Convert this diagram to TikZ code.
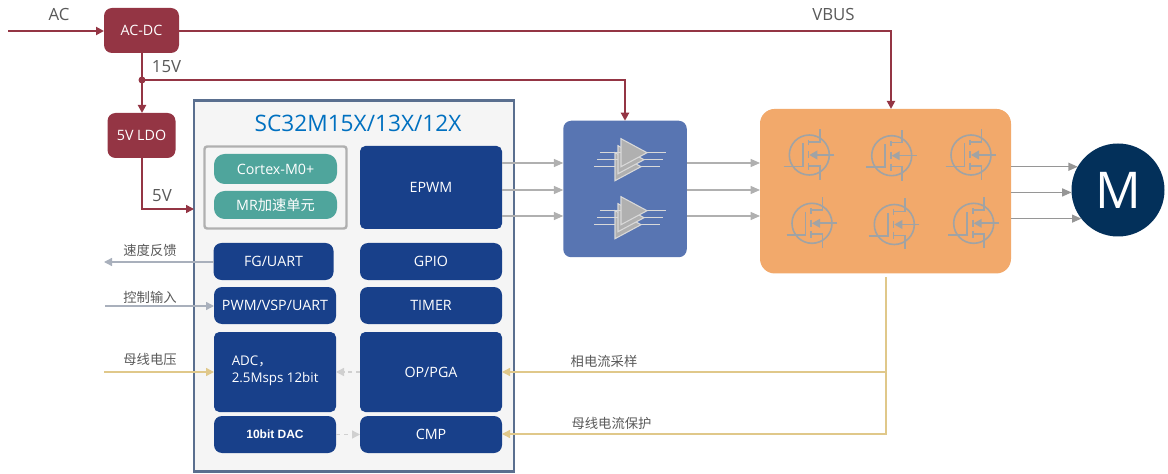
\documentclass[tikz,border=0pt]{standalone}
\usepackage{fontspec}
\setmainfont{Open Sans}
\newfontfamily\cjk{Noto Sans CJK SC}
\newfontfamily\dacfont{Liberation Sans}
\usetikzlibrary{arrows.meta,calc}
\definecolor{PowerRed}{HTML}{943544}
\definecolor{ChipBlue}{HTML}{18408A}
\definecolor{ChipEdge}{HTML}{5A6F8F}
\definecolor{CoreGreen}{HTML}{4FA59C}
\definecolor{DriverBlue}{HTML}{5875B2}
\definecolor{BridgeOrange}{HTML}{F2A96B}
\definecolor{MotorNavy}{HTML}{03305A}
\definecolor{SenseYellow}{HTML}{E0C88A}
\definecolor{SignalGray}{HTML}{A9B0BC}
\definecolor{GateGray}{HTML}{B0B0B0}
\definecolor{FetGray}{HTML}{A0A3A5}
\definecolor{LabelGray}{HTML}{595959}
\definecolor{TitleBlue}{HTML}{0070C0}
\tikzset{
    sized/.style 2 args={minimum width=#1*0.75pt,minimum height=#2*0.75pt},
    block/.style={outer sep=0pt,inner sep=0pt,text=white,rounded corners=6pt,align=center,font=\fontsize{10.7}{12}\selectfont},
    redblock/.style={block,fill=PowerRed},
    chipblock/.style={block,fill=ChipBlue},
    coreblock/.style={block,fill=CoreGreen,rounded corners=8pt},
    tag/.style={text=LabelGray,inner sep=0pt,font=\fontsize{12.6}{14}\selectfont},
    cjktag/.style={text=LabelGray,inner sep=0pt,font=\cjk\fontsize{10}{12}\selectfont},
    redline/.style={draw=PowerRed,line width=1.5pt,-{Triangle[length=6pt,width=6pt]}},
    grayline/.style={draw=GateGray,line width=0.9pt,-{Triangle[length=7pt,width=6pt]}},
    motorline/.style={draw=GateGray!85!black,line width=0.9pt,-{Triangle[length=7pt,width=6pt]}},
    signalline/.style={draw=SignalGray,line width=1pt,-{Triangle[length=6pt,width=6pt]}},
    senseline/.style={draw=SenseYellow,line width=1pt,-{Triangle[length=6pt,width=6pt]}},
    dashline/.style={draw=GateGray!60,line width=1pt,dashed,-{Triangle[length=6pt,width=6pt]}},
    fet/.pic={
        \draw[FetGray,line width=1.2pt] (0,0) circle (20);
        \draw[FetGray,line width=1.2pt] (-25.5,11.5) -- (-6.5,11.5) -- (-6.5,-11.5);
        \draw[FetGray,line width=1.2pt] (-1,-15) -- (-1,-9.5) (-1,-3.5) -- (-1,3.5) (-1,8) -- (-1,15);
        \draw[FetGray,line width=1.2pt] (-1,-13) -- (10.5,-13) -- (10.5,-26);
        \draw[FetGray,line width=1.2pt] (-1,11) -- (10.5,11) -- (10.5,25);
        \draw[FetGray,line width=1.2pt,-{Triangle[length=6pt,width=6.5pt]}] (25,0) -- (0,0);
    },
    amp/.pic={
        \foreach \k in {2,1,0}{
            \draw[draw=white!85!black,line width=0.8pt] ($(-26,0)+\k*(-3,7)$) -- ++(-21,0);
            \draw[draw=white!85!black,line width=0.8pt] ($(0,0)+\k*(-3,7)$) -- ++(19,0);
            \draw[draw=white!85!black,fill=GateGray,line width=0.8pt]
                ($(-26,-14)+\k*(-3,7)$) -- ++(0,28) -- ($(0,0)+\k*(-3,7)$) -- cycle;
        }
    },
}
\begin{document}
\begin{tikzpicture}[x=0.75pt,y=-0.75pt]
    \useasboundingbox (0,0) rectangle (1168,474);

    % power path
    \node[redblock,sized={75}{45}] (acdc) at (141.5,30.5) {AC-DC};
    \node[redblock,sized={68}{45}] (ldo) at (141.5,135.5) {5V LDO};

    % controller
    \node[fill=white!96!black,draw=ChipEdge,line width=2.2pt,outer sep=0pt,sized={320}{371}] (chip) at (354,286) {};
    \node[text=TitleBlue,font=\fontsize{17}{20}\selectfont,inner sep=0pt] (title) at (358,123) {SC32M15X/13X/12X};
    \node[draw=GateGray,line width=1.8pt,rounded corners=2pt,sized={142}{82},outer sep=0pt] (core) at (275.5,187.5) {};
    \node[coreblock,sized={123}{30}] (cortex) at (275.5,169) {Cortex-M0+};
    \node[coreblock,sized={123}{28}] (mr) at (275.5,205) {MR{\cjk 加速单元}};
    \node[chipblock,sized={142}{83},rounded corners=4pt] (epwm) at (431,187.5) {EPWM};
    \node[chipblock,sized={120}{37}] (fg) at (273.5,261.5) {FG/UART};
    \node[chipblock,sized={122}{37}] (pwm) at (275,305.5) {PWM/VSP/UART};
    \node[chipblock,sized={122}{80},rounded corners=4pt] (adc) at (275,372) {};
    \node[text=white,align=left,inner sep=0pt,anchor=west,font=\fontsize{10}{12.5}\selectfont] (adctext) at (231.5,371) {ADC{\cjk ，}\\2.5Msps 12bit};
    \node[chipblock,sized={122}{37},font=\dacfont\bfseries\fontsize{9}{10}\selectfont] (dac) at (275,434.5) {10bit DAC};
    \node[chipblock,sized={142}{37}] (gpio) at (431,261.5) {GPIO};
    \node[chipblock,sized={142}{37}] (timer) at (431,305.5) {TIMER};
    \node[chipblock,sized={142}{80},rounded corners=4pt] (op) at (431,372) {OP/PGA};
    \node[chipblock,sized={142}{37}] (cmp) at (431,434.5) {CMP};

    % driver, bridge, motor
    \node[fill=DriverBlue,rounded corners=6pt,outer sep=0pt,sized={123.5}{136.5}] (driver) at (625,189) {};
    \node[fill=BridgeOrange,rounded corners=11pt,outer sep=0pt,sized={251}{164.5}] (bridge) at (885.5,191.2) {};
    \node[circle,fill=MotorNavy,text=white,outer sep=0pt,inner sep=0pt,minimum size=93*0.75pt,font=\fontsize{38}{40}\selectfont] (motor) at (1118,190) {M};

    \foreach \y in {0,58}{
        \pic at (647,152.7+\y) {amp};
    }
    \foreach \x/\y in {809.3/155,891.7/155.7,971/155,812/223.3,894.3/224.5,973.7/223.3}{
        \pic at (\x,\y) {fet};
    }

    % free ends and junctions
    \coordinate (acin) at (8,31);
    \coordinate (railtap) at (142,80);
    \coordinate (vbusturn) at (891,31);
    \coordinate (railturn) at (625,80);
    \coordinate (ldoturn) at (142,209);
    \coordinate (fbout) at (104,262);
    \coordinate (ctrlin) at (105,306);
    \coordinate (busin) at (104,372);
    \coordinate (sensetop) at (886,277);
    \coordinate (sensemid) at (886,372);
    \coordinate (senselow) at (886,434);

    \draw[redline] (acin) -- (acdc.west |- acin);
    \draw[redline] (acdc.east |- vbusturn) -- (vbusturn) -- (vbusturn |- bridge.north);
    \draw[redline] (acdc.south -| railtap) -- (ldo.north -| railtap);
    \draw[redline] (railtap) -- (railturn) -- (driver.north -| railturn);
    \draw[redline,line width=1.2pt] (ldo.south -| ldoturn) -- (ldoturn) -- (chip.west |- ldoturn);
    \fill[PowerRed] (railtap) circle (3.5);

    \foreach \y in {163,190,216}{
        \draw[grayline] (epwm.east |- 0,\y) -- (driver.west |- 0,\y);
        \draw[grayline] (driver.east |- 0,\y) -- (bridge.west |- 0,\y);
    }
    \foreach \a in {150.4,183.7,218.6}{
        \draw[motorline] (bridge.east |- motor.\a) -- (motor.\a);
    }

    \draw[signalline] (fg.west |- fbout) -- (fbout);
    \draw[signalline] (ctrlin) -- (pwm.west |- ctrlin);
    \draw[senseline] (busin) -- (adc.west |- busin);
    \draw[dashline] (op.west |- busin) -- (adc.east |- busin);
    \draw[dashline] (dac.east) -- (cmp.west);
    \draw[senseline] (sensetop) -- (sensemid) -- (op.east |- sensemid);
    \draw[senseline] (sensemid) -- (senselow) -- (cmp.east |- senselow);

    % labels
    \node[tag] (aclabel) at (59,15) {AC};
    \node[tag] (vbuslabel) at (833.5,15) {VBUS};
    \node[tag] (v15label) at (166.5,67) {15V};
    \node[tag] (v5label) at (162,196) {5V};
    \node[cjktag] (fblabel) at (150,250) {速度反馈};
    \node[cjktag] (ctrllabel) at (150,297) {控制输入};
    \node[cjktag] (buslabel) at (150,359) {母线电压};
    \node[cjktag] (phaselabel) at (604,361) {相电流采样};
    \node[cjktag] (protlabel) at (611.5,423) {母线电流保护};
\end{tikzpicture}
\end{document}
